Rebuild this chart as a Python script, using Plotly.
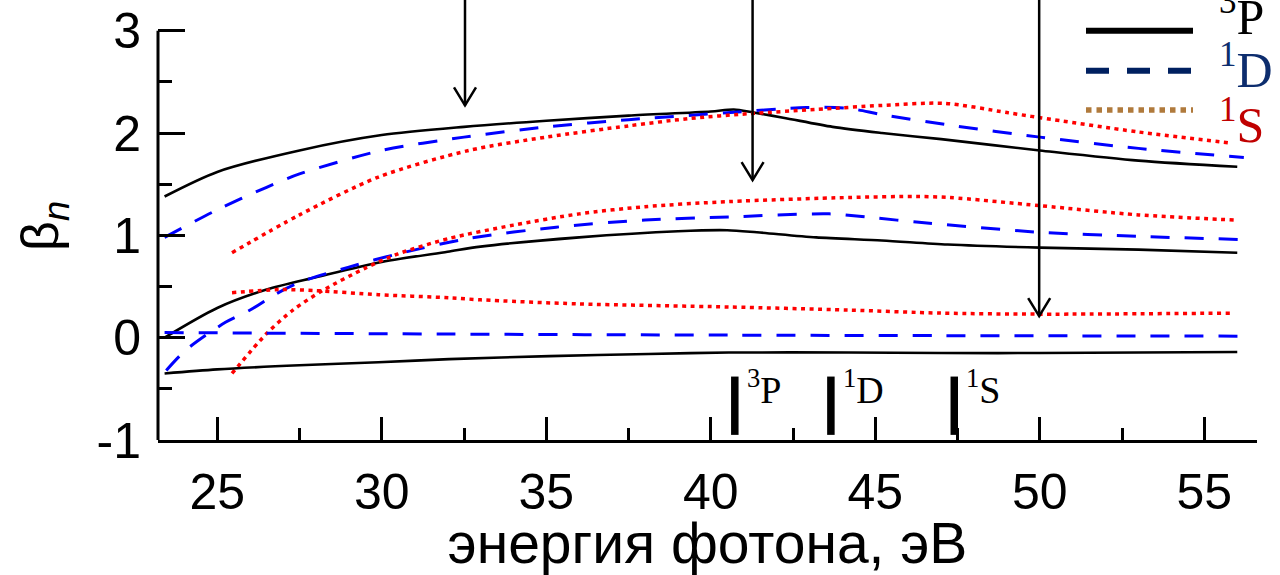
import plotly.graph_objects as go

# ---------------- data ----------------
# upper group
up_3P_x = [23.4, 25.0, 27.5, 30.0, 32.5, 35.0, 37.5, 40.0, 40.7, 41.3, 42.2, 43.7, 45.2, 47.0, 50.0, 53.0, 56.0]
up_3P_y = [1.38, 1.62, 1.83, 1.98, 2.06, 2.12, 2.17, 2.21, 2.23, 2.20, 2.15, 2.06, 2.00, 1.94, 1.83, 1.73, 1.67]
up_1D_x = [23.4, 25.0, 26.5, 27.5, 30.0, 32.5, 35.0, 37.5, 40.6, 42.9, 44.2, 45.2, 47.2, 50.0, 53.0, 56.2]
up_1D_y = [0.98, 1.25, 1.47, 1.60, 1.83, 1.96, 2.06, 2.13, 2.20, 2.25, 2.24, 2.18, 2.08, 1.96, 1.85, 1.76]
up_1S_x = [25.45, 27.5, 29.9, 32.65, 35.0, 37.5, 39.3, 41.2, 43.2, 45.2, 47.1, 49.0, 50.0, 53.0, 55.85]
up_1S_y = [0.83, 1.20, 1.57, 1.83, 1.96, 2.07, 2.14, 2.19, 2.23, 2.27, 2.29, 2.20, 2.15, 2.01, 1.90]
# middle group
mid_3P_x = [23.4, 25.0, 26.5, 28.0, 30.0, 32.0, 33.0, 36.0, 39.0, 40.5, 41.4, 43.2, 45.2, 47.2, 50.0, 53.0, 56.0]
mid_3P_y = [0.00, 0.29, 0.47, 0.59, 0.74, 0.84, 0.89, 0.98, 1.04, 1.05, 1.03, 0.98, 0.95, 0.91, 0.88, 0.86, 0.83]
mid_1D_x = [23.45, 24.05, 25.25, 26.0, 26.8, 27.5, 29.0, 30.5, 32.65, 35.3, 38.0, 40.55, 43.6, 44.7, 46.25, 50.0, 53.0, 56.05]
mid_1D_y = [-0.32, -0.12, 0.15, 0.27, 0.43, 0.54, 0.69, 0.82, 0.97, 1.08, 1.15, 1.18, 1.21, 1.18, 1.13, 1.03, 0.99, 0.96]
mid_1S_x = [25.45, 26.5, 27.3, 28.2, 29.5, 30.5, 32.05, 34.0, 36.0, 38.0, 40.55, 44.2, 46.25, 47.25, 50.0, 53.0, 55.9]
mid_1S_y = [-0.35, 0.04, 0.27, 0.46, 0.68, 0.82, 0.97, 1.10, 1.21, 1.28, 1.33, 1.37, 1.38, 1.37, 1.29, 1.20, 1.15]
# lower group
low_3P_x = [23.4, 25.0, 27.5, 29.9, 32.05, 35.1, 38.1, 40.55, 44.2, 47.0, 50.0, 56.0]
low_3P_y = [-0.35, -0.31, -0.27, -0.24, -0.21, -0.18, -0.16, -0.145, -0.145, -0.15, -0.15, -0.14]
low_1D_x = [23.4, 32.05, 40.55, 47.0, 56.2]
low_1D_y = [0.05, 0.035, 0.025, 0.02, 0.015]
low_1S_x = [25.45, 26.9, 28.0, 29.9, 32.05, 33.0, 36.0, 40.55, 44.2, 47.0, 50.0, 55.85]
low_1S_y = [0.44, 0.47, 0.46, 0.42, 0.39, 0.37, 0.33, 0.30, 0.27, 0.24, 0.23, 0.24]

# thresholds (x) and labels
thr_x = [40.73, 43.65, 47.40]
thr_labels = ["<sup>3</sup>P", "<sup>1</sup>D", "<sup>1</sup>S"]
# arrows: x position and tip y value
arrow_x = [32.53, 41.27, 49.98]
arrow_tip = [2.27, 1.54, 0.21]

x_ticks = [25, 30, 35, 40, 45, 50, 55]
x_minor = [27.5, 32.5, 37.5, 42.5, 47.5, 52.5]
y_ticks = [-1, 0, 1, 2, 3]
y_ticktext = ["-1", "0", "1", "2", "3"]
y_minor = [-0.5, 0.5, 1.5, 2.5]

legend_labels = ["<sup>3</sup>P", "<sup>1</sup>D", "<sup>1</sup>S"]

# ---------------- layout geometry ----------------
W, H = 1280, 575
ML, MR, MT, MB = 158, 23, 0, 135
PW, PH = W - ML - MR, H - MT - MB
XR = [23.2, 56.6]
YR = [-1, 3.3]


def px2paper_x(px):
    return (px - ML) / PW


def px2paper_y(py):
    return (H - MB - py) / PH


fig = go.Figure()

BLK = dict(color="black", width=2.6)
BLU = dict(color="#0000ff", width=3, dash="19px,15px")
RED = dict(color="#ff0000", width=3.5, dash="4px,4.5px")

for xs, ys, ln in [
    (up_3P_x, up_3P_y, BLK), (up_1D_x, up_1D_y, BLU), (up_1S_x, up_1S_y, RED),
    (mid_3P_x, mid_3P_y, BLK), (mid_1D_x, mid_1D_y, BLU), (mid_1S_x, mid_1S_y, RED),
    (low_3P_x, low_3P_y, BLK), (low_1D_x, low_1D_y, BLU), (low_1S_x, low_1S_y, RED),
]:
    fig.add_trace(go.Scatter(x=xs, y=ys, mode="lines", line=dict(shape="spline", smoothing=0.8, **ln),
                             showlegend=False, hoverinfo="skip"))

shapes = []
annotations = []
# y axis line from -1 to 3
shapes.append(dict(type="line", xref="paper", yref="y", x0=0, x1=0, y0=-1, y1=3,
                   line=dict(color="black", width=3)))

# threshold bars + labels
for xv, lab in zip(thr_x, thr_labels):
    shapes.append(dict(type="line", xref="x", yref="y", x0=xv, x1=xv, y0=-0.95, y1=-0.38,
                       line=dict(color="black", width=7.5)))
    annotations.append(dict(x=xv, y=-0.48, xref="x", yref="y", text=lab, showarrow=False,
                            xanchor="left", yanchor="middle", xshift=10,
                            font=dict(family="Liberation Serif", size=38, color="black")))

# arrows (vertical, open V heads)
dx = 11 / (PW / (XR[1] - XR[0]))
dy = 18 / (PH / (YR[1] - YR[0]))
for xv, yt in zip(arrow_x, arrow_tip):
    shapes.append(dict(type="line", xref="x", yref="y", x0=xv, x1=xv, y0=YR[1], y1=yt,
                       line=dict(color="black", width=2.5)))
    shapes.append(dict(type="path", xref="x", yref="y",
                       path=f"M {xv-dx},{yt+dy} L {xv},{yt} L {xv+dx},{yt+dy}",
                       line=dict(color="black", width=2.5)))

# custom legend
leg_y = [30.7, 70.7, 110.0]
leg_line = [dict(color="black", width=6),
            dict(color="#002060", width=6, dash="23px,18px"),
            dict(color="#b07a3c", width=5.5, dash="5.5px,5px")]
leg_txtcol = ["black", "#0d2d6e", "#c00000"]
leg_txt_y = [13, 66, 122]
for i in range(3):
    shapes.append(dict(type="line", xref="paper", yref="paper",
                       x0=px2paper_x(1086), x1=px2paper_x(1193),
                       y0=px2paper_y(leg_y[i]), y1=px2paper_y(leg_y[i]), line=leg_line[i]))
    annotations.append(dict(x=px2paper_x(1217), y=px2paper_y(leg_txt_y[i]), xref="paper", yref="paper",
                            text=legend_labels[i], showarrow=False, xanchor="left", yanchor="middle",
                            font=dict(family="Liberation Serif", size=50, color=leg_txtcol[i])))

# y title
annotations.append(dict(x=px2paper_x(44), y=px2paper_y(226), xref="paper", yref="paper",
                        text="β<sub><i>n</i></sub>", showarrow=False, textangle=-90,
                        xanchor="center", yanchor="middle",
                        font=dict(family="Liberation Sans", size=52, color="black")))

fig.update_layout(
    width=W, height=H, margin=dict(l=ML, r=MR, t=MT, b=MB, autoexpand=False),
    paper_bgcolor="white", plot_bgcolor="white",
    shapes=shapes, annotations=annotations,
    xaxis=dict(range=XR, tickvals=x_ticks, ticks="inside", ticklen=23, tickwidth=3, tickcolor="black",
               showline=True, linewidth=3, linecolor="black", showgrid=False, zeroline=False,
               tickfont=dict(family="Liberation Sans", size=50, color="black"),
               ticklabelstandoff=6,
               minor=dict(tickvals=x_minor, ticks="inside", ticklen=12, tickwidth=3, tickcolor="black"),
               title=dict(text="энергия фотона, эВ", standoff=3,
                          font=dict(family="Liberation Sans", size=57, color="black"))),
    yaxis=dict(range=YR, tickvals=y_ticks, ticktext=y_ticktext, ticks="inside", ticklen=27, tickwidth=3,
               tickcolor="black", showline=False, showgrid=False, zeroline=False,
               tickfont=dict(family="Liberation Sans", size=50, color="black"),
               ticklabelstandoff=16,
               minor=dict(tickvals=y_minor, ticks="inside", ticklen=14, tickwidth=3, tickcolor="black")),
)

fig.write_html("out.html", config={"displayModeBar": False},
               post_script="document.body.style.margin='0';document.body.style.overflow='hidden';")
